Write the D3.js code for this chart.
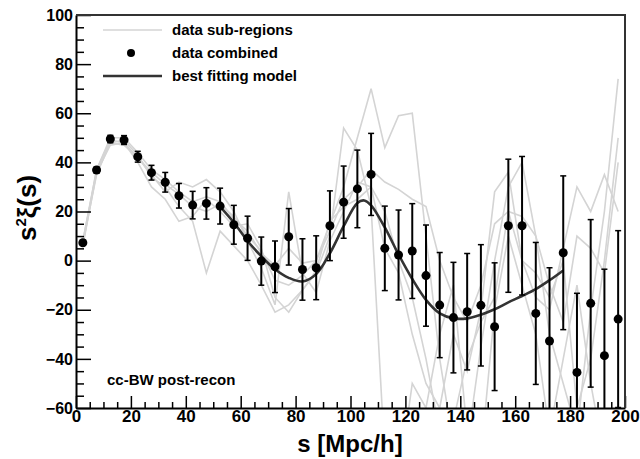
<!DOCTYPE html>
<html>
<head>
    <meta charset="utf-8">
    <title>cc-BW post-recon</title>
    <script type="text/javascript" src="https://cdn.jsdelivr.net/npm/d3@7/dist/d3.min.js"></script>
    <style>
        body { margin: 0; background: #fff; }
        text { font-family: "Liberation Sans", Arial, sans-serif; font-weight: bold; }
    </style>
</head>
<body>

<div id="graphDiv"></div>

<script>

var width = 640,
    height = 459,
    margin = { top: 15, right: 15, bottom: 51, left: 76 },
    // bin centres of the combined measurement
    sVals = [2.5, 7.5, 12.5, 17.5, 22.5, 27.5, 32.5, 37.5, 42.5, 47.5,
             52.5, 57.5, 62.5, 67.5, 72.5, 77.5, 82.5, 87.5, 92.5, 97.5,
             102.5, 107.5, 112.5, 117.5, 122.5, 127.5, 132.5, 137.5, 142.5, 147.5,
             152.5, 157.5, 162.5, 167.5, 172.5, 177.5, 182.5, 187.5, 192.5, 197.5],
    combined = [7.3, 36.9, 49.5, 49.1, 42.3, 35.8, 31.9, 26.4, 22.6, 23.3,
                22.2, 14.6, 9.1, -0.2, -2.5, 9.7, -3.6, -2.9, 14.2, 23.8,
                29.2, 35.1, 5.0, 2.3, 3.9, -6.1, -18.1, -23.2, -20.8, -18.2,
                -26.9, 14.2, 14.2, -21.5, -32.7, 3.2, -45.5, -17.4, -38.7, -23.8],
    errors = [1, 1.2, 1.5, 1.8, 2.2, 3, 4, 5, 5.6, 6.4,
              7.3, 7.9, 9, 9.8, 10.5, 11.5, 12.5, 13, 14.2, 14.7,
              15.8, 16.7, 17.2, 18.3, 19.3, 20.6, 21.4, 22.5, 23.7, 24.7,
              26, 27.1, 28.2, 28.9, 29.8, 31.3, 32.2, 34.1, 35.2, 36],
    // individual sub-regions (light grey)
    subRegions = [
        [8, 37, 50, 50, 44, 37, 33, 28, 24, 26, 24, 17, 12, 3, -2, 5, -1, 0, 15, 30,
         50, 70, 46, 59, 60, 10, -40, -75, -75, -35, 0, 30, 40, 10, -30, -50, -70, -20, 20, 74],
        [7, 35, 48, 49, 43, 34, 30, 22, 16, -5, 12, 6, 0, -10, -21, -18, -12, -5, 10, 54,
         45, 22, -80, -90, -50, -60, -30, -10, -70, -80, -20, 10, -10, -30, -70, -40, -10, -50, -80, -100],
        [6, 36, 48, 47, 42, 36, 31, 27, 22, 20, 23, 18, 10, 4, -8, -10, -6, 0, 12, 25,
         30, 37, 32, 29, 25, 22, 0, -15, -25, -10, 15, 20, 18, 10, -10, -25, 10, 5, -5, 40],
        [8, 36, 47, 48, 40, 30, 25, 16, 18, 25, 20, 14, 15, 5, -15, -21, -12, -4, 16, 22,
         25, 30, 5, -5, -30, -50, -60, -30, -45, -20, 28, 36, 0, -15, -20, 5, 30, 20, 35, 20],
        [7, 37, 49, 48, 42, 35, 28, 32, 30, 33, 28, 20, 8, -3, -18, 28, -5, -13, 8, 20,
         32, 30, 20, 0, -15, -40, -70, -65, -40, -25, -15, 20, 0, -5, -15, 0, -60, -40, 0, 50]
    ],
    // best fitting model
    modelS = [52.5, 57.5, 62.5, 67.5, 72.5, 77.5, 82.5, 87.5, 92.5, 97.5, 102.5, 105,
              107.5, 112.5, 117.5, 122.5, 127.5, 132.5, 137.5, 142.5, 147.5, 152.5,
              157.5, 162.5, 167.5, 172.5, 177.5],
    modelVals = [22, 15.5, 8, 1.8, -3.5, -7, -8.5, -5.5, 3, 14, 23.5, 24.5,
                 22.5, 13.5, 2.5, -7.5, -16, -21.5, -23.5, -23.5, -22, -19.8,
                 -17, -14.4, -11.6, -8, -4],
    xMajor = [0, 20, 40, 60, 80, 100, 120, 140, 160, 180, 200],
    yMajor = [-60, -40, -20, 0, 20, 40, 60, 80, 100],
    legendLabels = ["data sub-regions", "data combined", "best fitting model"];

function drawGraph() {
    var svg = d3.select('#graphDiv').append('svg')
        .attr('width', width)
        .attr('height', height);

    var x = d3.scaleLinear().domain([0, 200]).range([margin.left, width - margin.right]);
    var y = d3.scaleLinear().domain([-60, 100]).range([height - margin.bottom, margin.top]);

    svg.append('clipPath').attr('id', 'plotClip')
        .append('rect')
        .attr('x', x(0)).attr('y', y(100))
        .attr('width', x(200) - x(0)).attr('height', y(-60) - y(100));

    var plot = svg.append('g').attr('clip-path', 'url(#plotClip)');

    var line = d3.line()
        .x(function(d) { return x(d[0]); })
        .y(function(d) { return y(d[1]); });

    // sub-region curves
    subRegions.forEach(function(vals) {
        plot.append('path')
            .attr('d', line(vals.map(function(v, i) { return [sVals[i], v]; })))
            .style('fill', 'none')
            .style('stroke', '#d4d4d4')
            .style('stroke-width', 1.6);
    });

    // model
    plot.append('path')
        .attr('d', line.curve(d3.curveCatmullRom)(modelVals.map(function(v, i) { return [modelS[i], v]; })))
        .style('fill', 'none')
        .style('stroke', '#333')
        .style('stroke-width', 2.6);

    // error bars
    var bars = plot.selectAll('.err')
        .data(combined)
        .enter().append('g')
        .attr('class', 'err');

    bars.append('line')
        .attr('x1', function(d, i) { return x(sVals[i]); })
        .attr('x2', function(d, i) { return x(sVals[i]); })
        .attr('y1', function(d, i) { return y(d - errors[i]); })
        .attr('y2', function(d, i) { return y(d + errors[i]); })
        .style('stroke', '#000')
        .style('stroke-width', 2);

    [-1, 1].forEach(function(sign) {
        bars.append('line')
            .attr('x1', function(d, i) { return x(sVals[i]) - 3; })
            .attr('x2', function(d, i) { return x(sVals[i]) + 3; })
            .attr('y1', function(d, i) { return y(d + sign * errors[i]); })
            .attr('y2', function(d, i) { return y(d + sign * errors[i]); })
            .style('stroke', '#000')
            .style('stroke-width', 1.5);
    });

    plot.selectAll('.pt')
        .data(combined)
        .enter().append('circle')
        .attr('class', 'pt')
        .attr('cx', function(d, i) { return x(sVals[i]); })
        .attr('cy', function(d) { return y(d); })
        .attr('r', 4.5)
        .style('fill', '#000');

    // axes: ticks drawn inside the frame
    var xMinor = d3.range(0, 201, 5).filter(function(v) { return v % 20 !== 0; });
    var yMinor = d3.range(-60, 101, 5).filter(function(v) { return v % 20 !== 0; });

    var gx = svg.append('g')
        .attr('transform', 'translate(0,' + y(-60) + ')')
        .call(d3.axisBottom(x).tickValues(xMajor).tickSize(-12).tickSizeOuter(0).tickPadding(2));
    svg.append('g')
        .attr('transform', 'translate(0,' + y(-60) + ')')
        .call(d3.axisBottom(x).tickValues(xMinor).tickSize(-6).tickFormat(''))
        .select('.domain').remove();

    var gy = svg.append('g')
        .attr('transform', 'translate(' + x(0) + ',0)')
        .call(d3.axisLeft(y).tickValues(yMajor).tickSize(-15).tickSizeOuter(0).tickPadding(3));
    svg.append('g')
        .attr('transform', 'translate(' + x(0) + ',0)')
        .call(d3.axisLeft(y).tickValues(yMinor).tickSize(-8).tickFormat(''))
        .select('.domain').remove();

    svg.selectAll('.domain').style('stroke-width', 2);
    svg.selectAll('.tick line').style('stroke-width', 1.5);
    gx.selectAll('text').style('font-size', '17px').style('font-weight', 'bold').style('fill', '#000');
    gy.selectAll('text').style('font-size', '16px').style('font-weight', 'bold').style('fill', '#000');
    gy.selectAll('text').text(function(d) { return d < 0 ? '\u2212' + Math.abs(d) : d; });

    // frame top and right
    svg.append('path')
        .attr('d', 'M' + x(0) + ',' + y(100) + 'H' + x(200) + 'V' + y(-60))
        .style('fill', 'none')
        .style('stroke', '#333')
        .style('stroke-width', 2);

    // axis titles
    svg.append('text')
        .attr('x', 350).attr('y', 452)
        .attr('text-anchor', 'middle')
        .style('font-size', '24px')
        .text('s [Mpc/h]');

    var yt = svg.append('text')
        .attr('transform', 'translate(36,208) rotate(-90)')
        .attr('text-anchor', 'middle')
        .style('font-size', '26px');
    yt.append('tspan').text('s');
    yt.append('tspan').attr('dy', -10).style('font-size', '15px').text('2');
    yt.append('tspan').attr('dy', 10).text('\u03be(s)');

    // legend
    var ly = [30, 53, 76];
    svg.append('line')
        .attr('x1', 103).attr('x2', 162).attr('y1', ly[0]).attr('y2', ly[0])
        .style('stroke', '#d4d4d4').style('stroke-width', 1.6);
    svg.append('circle')
        .attr('cx', 131).attr('cy', ly[1]).attr('r', 4)
        .style('fill', '#000');
    svg.append('line')
        .attr('x1', 103).attr('x2', 162).attr('y1', ly[2]).attr('y2', ly[2])
        .style('stroke', '#333').style('stroke-width', 2.6);
    svg.selectAll('.leg')
        .data(legendLabels)
        .enter().append('text')
        .attr('class', 'leg')
        .attr('x', 172)
        .attr('y', function(d, i) { return ly[i] + 5; })
        .style('font-size', '15px')
        .text(function(d) { return d; });

    svg.append('text')
        .attr('x', 107).attr('y', 385)
        .style('font-size', '15px')
        .text('cc-BW post-recon');
}

drawGraph();

</script>

</body>
</html>
